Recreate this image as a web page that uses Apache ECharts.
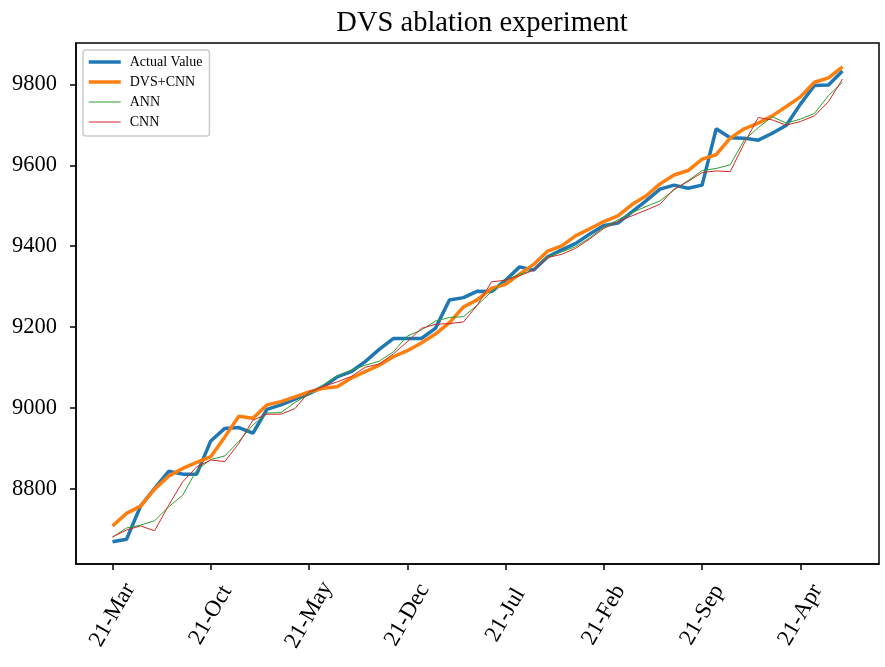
<!DOCTYPE html>
<html>
<head>
<meta charset="utf-8">
<script src="https://cdn.jsdelivr.net/npm/echarts@6/dist/echarts.min.js"></script>
<style>
  html, body { margin: 0; padding: 0; background: #fff; }
  #chart { width: 885px; height: 667px; }
</style>
</head>
<body>
<div id="chart"></div>
<script>
// month labels, one point per month starting at March
const monthNames = ["Mar", "Apr", "May", "Jun", "Jul", "Aug", "Sep", "Oct", "Nov", "Dec", "Jan", "Feb"];
const categories = [];
for (let i = 0; i < 53; i++) categories.push("21-" + monthNames[i % 12]);

const tickIndex = [0, 7, 14, 21, 28, 35, 42, 49];
const yTicks = [8800, 9000, 9200, 9400, 9600, 9800];

const actualValue = [
  8670, 8676, 8758, 8802, 8844, 8837, 8837, 8919, 8950, 8952,
  8938, 8997, 9008, 9022, 9036, 9053, 9077, 9090, 9115, 9145,
  9172, 9172, 9172, 9197, 9267, 9273, 9289, 9288, 9316, 9349,
  9341, 9374, 9391, 9407, 9430, 9451, 9457, 9485, 9512, 9541,
  9551, 9543, 9551, 9690, 9668, 9667, 9662, 9679, 9699, 9751,
  9797, 9798, 9833
];
const dvsCnn = [
  8709, 8740, 8758, 8800, 8832, 8851, 8866, 8880, 8929, 8980,
  8975, 9008, 9016, 9028, 9040, 9049, 9053, 9074, 9090, 9106,
  9127, 9142, 9161, 9183, 9211, 9250, 9268, 9296, 9306, 9331,
  9355, 9388, 9401, 9426, 9443, 9461, 9475, 9503, 9524, 9554,
  9576, 9587, 9615, 9626, 9667, 9690, 9704, 9722, 9745, 9769,
  9805, 9816, 9843
];
const ann = [
  8681, 8704, 8711, 8722, 8756, 8785, 8847, 8873, 8882, 8918,
  8958, 8988, 8989, 9014, 9035, 9057, 9079, 9094, 9106, 9116,
  9139, 9178, 9193, 9215, 9224, 9226, 9255, 9288, 9316, 9331,
  9341, 9374, 9386, 9399, 9421, 9447, 9465, 9483, 9498, 9512,
  9539, 9562, 9587, 9592, 9601, 9662, 9693, 9720, 9704, 9714,
  9728, 9772, 9805
];
const cnn = [
  8682, 8699, 8709, 8697, 8760, 8818, 8855, 8872, 8868, 8913,
  8970, 8985, 8985, 8999, 9040, 9053, 9065, 9078, 9101, 9109,
  9134, 9164, 9197, 9207, 9209, 9213, 9255, 9312, 9316, 9327,
  9341, 9372, 9380, 9395, 9418, 9444, 9461, 9475, 9489, 9504,
  9541, 9560, 9582, 9586, 9584, 9654, 9718, 9712, 9699, 9708,
  9722, 9757, 9813
];

const FONT = "Liberation Serif";
const pairs = (arr) => arr.map((v, i) => [i, v]);

function lineSeries(name, data, color, width) {
  return {
    name: name,
    type: "line",
    data: pairs(data),
    symbol: "none",
    lineStyle: { color: color, width: width },
    itemStyle: { color: color },
  };
}

const option = {
  animation: false,
  backgroundColor: "#fff",
  title: {
    text: "DVS ablation experiment",
    left: 477,
    textAlign: "center",
    top: 4,
    textStyle: { fontFamily: FONT, fontSize: 28.5, fontWeight: "normal", color: "#000" },
  },
  legend: {
    orient: "vertical",
    left: 83,
    top: 50,
    padding: [5, 7, 7, 4],
    itemWidth: 32,
    itemHeight: 14,
    itemGap: 6,
    borderColor: "#cccccc",
    borderWidth: 1.5,
    borderRadius: 3,
    backgroundColor: "rgba(255,255,255,0.8)",
    itemStyle: { opacity: 0 },
    textStyle: { fontFamily: FONT, fontSize: 14, color: "#000", lineHeight: 14, padding: [0, 0, 0, 4] },
    data: [
      { name: "Actual Value", lineStyle: { width: 3.5 } },
      { name: "DVS+CNN", lineStyle: { width: 3.5 } },
      { name: "ANN", lineStyle: { width: 1 } },
      { name: "CNN", lineStyle: { width: 1 } },
    ],
  },
  grid: {
    left: 76,
    right: 6,
    top: 43,
    bottom: 103,
    show: true,
    borderColor: "#000",
    borderWidth: 1.5,
    backgroundColor: "transparent",
  },
  xAxis: {
    type: "value",
    min: -2.6,
    max: 54.6,
    splitLine: { show: false },
    axisLine: { show: true, onZero: false, lineStyle: { color: "#000", width: 1.5 } },
    axisTick: { show: true, customValues: tickIndex, length: 6, lineStyle: { color: "#000", width: 1.5 } },
    axisLabel: {
      customValues: tickIndex,
      formatter: (v) => categories[Math.round(v)],
      rotate: 60,
      align: "center",
      verticalAlign: "middle",
      margin: 51,
      fontFamily: FONT,
      fontSize: 23,
      color: "#000",
    },
  },
  yAxis: {
    type: "value",
    min: 8615,
    max: 9902,
    splitLine: { show: false },
    axisLine: { show: true, onZero: false, lineStyle: { color: "#000", width: 1.5 } },
    axisTick: { show: true, customValues: yTicks, length: 6, lineStyle: { color: "#000", width: 1.5 } },
    axisLabel: {
      customValues: yTicks,
      formatter: (v) => String(v),
      margin: 19,
      fontFamily: FONT,
      fontSize: 22.5,
      color: "#000",
    },
  },
  series: [
    lineSeries("Actual Value", actualValue, "#1f77b4", 3.5),
    lineSeries("DVS+CNN", dvsCnn, "#ff7f0e", 3.5),
    lineSeries("ANN", ann, "#2ca02c", 1),
    lineSeries("CNN", cnn, "#d62728", 1),
  ],
};

const chart = echarts.init(document.getElementById("chart"), null, { renderer: "canvas" });
chart.setOption(option);
</script>
</body>
</html>
